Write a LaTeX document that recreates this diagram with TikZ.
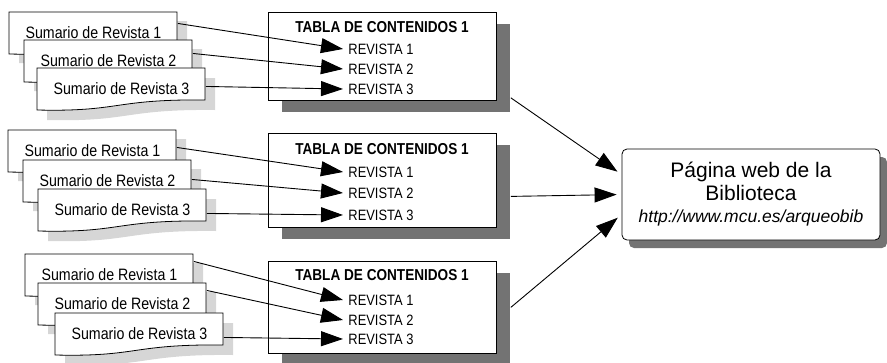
\documentclass[tikz,border=0pt]{standalone}
\usepackage{fontspec}
\setmainfont{Liberation Sans}
\newfontfamily\estrecha[FakeStretch=0.86]{Liberation Sans}
\usetikzlibrary{arrows.meta}

\begin{document}
\begin{tikzpicture}[x=1pt,y=-1pt,line width=0.9pt,
  hoja/.style={draw,fill=white,line width=0.8pt},
  forma/.style={insert path={(0,0) -- (168,0) -- (168,32) .. controls (76,31) and (84,44) .. (0,42) -- cycle}},
  sombraclara/.style={fill=black!16},
  sombra/.style={fill=black!55},
  sumario/.style={minimum width=168pt,minimum height=40pt,inner sep=0pt,anchor=north west,
    font=\estrecha\fontsize{16.5}{18}\selectfont},
  tabla/.style={draw,fill=white,line width=0.8pt,anchor=north west,inner sep=0pt},
  titulo/.style={font=\estrecha\bfseries\fontsize{15.8}{18}\selectfont},
  revista/.style={anchor=west,inner xsep=5pt,inner ysep=0pt,font=\estrecha\fontsize{15}{17}\selectfont},
  web/.style={draw,fill=white,line width=0.8pt,rounded corners=5pt,minimum width=258pt,
    minimum height=91pt,align=center,font=\fontsize{21}{22.5}\selectfont},
  flecha/.style={-{Triangle[length=22pt,width=15pt]}}]
\useasboundingbox (0,0) rectangle (887,362);

% primer grupo
\fill[sombraclara,shift={(19,21)},forma];
\draw[hoja,shift={(9,12)},forma];
\node[sumario] (s11) at (9,12) {Sumario de Revista 1};
\fill[sombraclara,shift={(34,49)},forma];
\draw[hoja,shift={(24,40)},forma];
\node[sumario] (s12) at (24,40) {Sumario de Revista 2};
\fill[sombraclara,shift={(47,78)},forma];
\draw[hoja,shift={(37,68)},forma];
\node[sumario] (s13) at (37,68) {Sumario de Revista 3};

\fill[sombra] (282,24) rectangle (510,112);
\node[tabla,minimum width=228pt,minimum height=88pt] (t1) at (268,12) {};
\node[titulo] (c1) at (382,27) {TABLA DE CONTENIDOS 1};
\node[revista] (r11) at (343,49) {REVISTA 1};
\node[revista] (r12) at (343,69) {REVISTA 2};
\node[revista] (r13) at (343,89) {REVISTA 3};

\draw[flecha] ([yshift=9pt]s11.east) -- (r11.west);
\draw[flecha] ([yshift=7pt]s12.east) -- (r12.west);
\draw[flecha] ([yshift=2pt]s13.east) -- (r13.west);

% segundo grupo
\fill[sombraclara,shift={(18,139)},forma];
\draw[hoja,shift={(8,130)},forma];
\node[sumario] (s21) at (8,130) {Sumario de Revista 1};
\fill[sombraclara,shift={(33,169)},forma];
\draw[hoja,shift={(23,160)},forma];
\node[sumario] (s22) at (23,160) {Sumario de Revista 2};
\fill[sombraclara,shift={(48,199)},forma];
\draw[hoja,shift={(38,189)},forma];
\node[sumario] (s23) at (38,189) {Sumario de Revista 3};

\fill[sombra] (282,145) rectangle (510,239);
\node[tabla,minimum width=228pt,minimum height=94pt] (t2) at (268,133) {};
\node[titulo] (c2) at (382,149) {TABLA DE CONTENIDOS 1};
\node[revista] (r21) at (343,172) {REVISTA 1};
\node[revista] (r22) at (343,193) {REVISTA 2};
\node[revista] (r23) at (343,215) {REVISTA 3};

\draw[flecha] ([yshift=3pt]s21.east) -- (r21.west);
\draw[flecha] ([yshift=1pt]s22.east) -- (r22.west);
\draw[flecha] ([yshift=-4pt]s23.east) -- (r23.west);

% tercer grupo
\fill[sombraclara,shift={(35,263)},forma];
\draw[hoja,shift={(25,254)},forma];
\node[sumario] (s31) at (25,254) {Sumario de Revista 1};
\fill[sombraclara,shift={(48,292)},forma];
\draw[hoja,shift={(38,283)},forma];
\node[sumario] (s32) at (38,283) {Sumario de Revista 2};
\fill[sombraclara,shift={(65,323)},forma];
\draw[hoja,shift={(55,313)},forma];
\node[sumario] (s33) at (55,313) {Sumario de Revista 3};

\fill[sombra] (282,273) rectangle (510,365);
\node[tabla,minimum width=228pt,minimum height=92pt] (t3) at (268,261) {};
\node[titulo] (c3) at (382,275) {TABLA DE CONTENIDOS 1};
\node[revista] (r31) at (343,300) {REVISTA 1};
\node[revista] (r32) at (343,320) {REVISTA 2};
\node[revista] (r33) at (343,339) {REVISTA 3};

\draw[flecha] ([yshift=13pt]s31.east) -- (r31.west);
\draw[flecha] ([yshift=13pt]s32.east) -- (r32.west);
\draw[flecha] ([yshift=-4pt]s33.east) -- (r33.west);

% pagina web
\fill[sombra,rounded corners=5pt] (629,157) rectangle (887,248);
\node[web] (web) at (751,194.5) {P\'agina web de la\\Biblioteca\\{\itshape\fontsize{17.5}{22.5}\selectfont http://www.mcu.es/arqueobib}};

\draw[flecha,shorten >=5pt] ([xshift=14pt,yshift=3pt]t1.south east) -- ([yshift=20pt]web.west);
\draw[flecha,shorten >=5pt] ([xshift=14pt,yshift=-16pt]t2.east) -- (web.west);
\draw[flecha,shorten >=5pt] ([xshift=14pt]t3.east) -- ([yshift=-20pt]web.west);

\end{tikzpicture}
\end{document}
